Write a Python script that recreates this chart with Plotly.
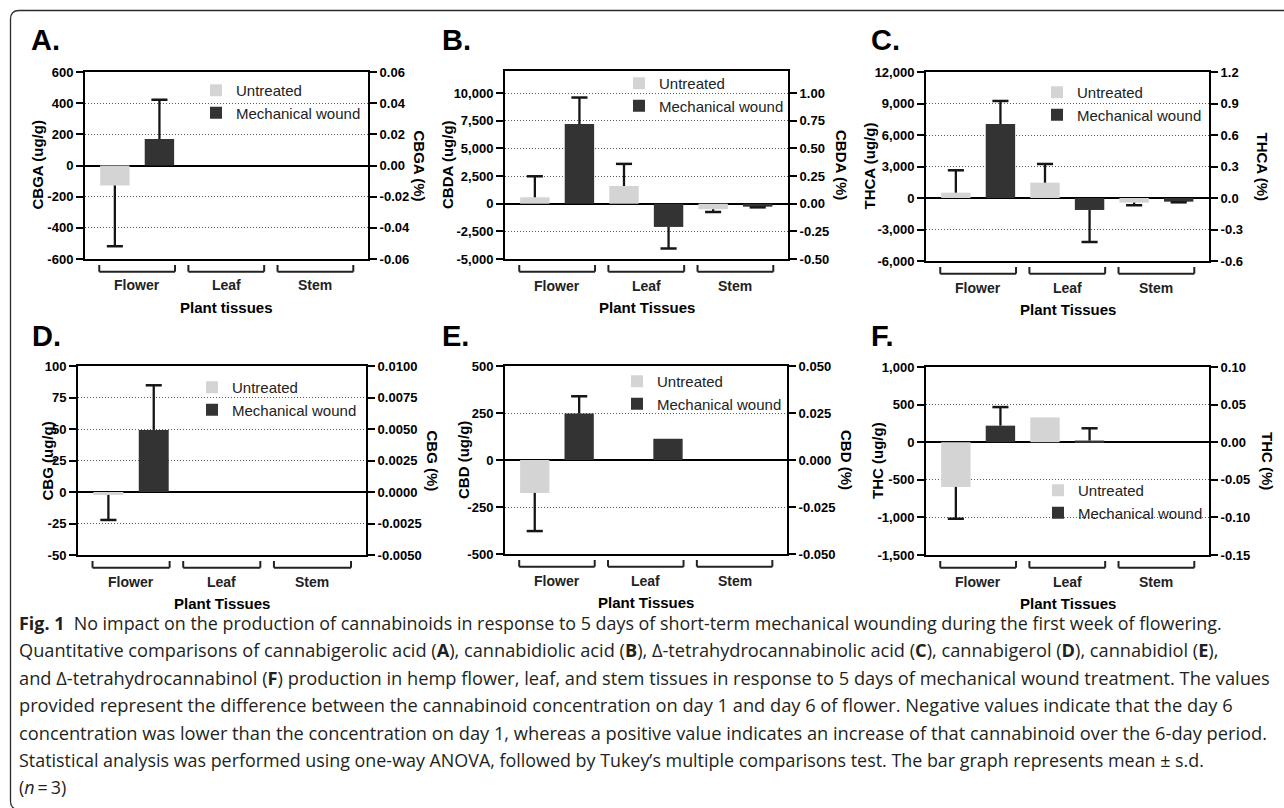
import plotly.graph_objects as go

W, H = 1284, 808

# ---------------- data ----------------
tissues = ["Flower", "Leaf", "Stem"]
series_names = ["Untreated", "Mechanical wound"]

# A. CBGA (ug/g)
cbga_untreated = [-128, None, None]
cbga_untreated_sd = [390, None, None]
cbga_wound = [170, None, None]
cbga_wound_sd = [252, None, None]

# B. CBDA (ug/g)
cbda_untreated = [580, 1600, -500]
cbda_untreated_sd = [1900, 2000, 250]
cbda_wound = [7200, -2100, -270]
cbda_wound_sd = [2400, 1950, 60]

# C. THCA (ug/g)
thca_untreated = [510, 1460, -440]
thca_untreated_sd = [2130, 1780, 250]
thca_wound = [7050, -1140, -350]
thca_wound_sd = [2190, 3050, 60]

# D. CBG (ug/g)
cbg_untreated = [-2.4, None, None]
cbg_untreated_sd = [19.8, None, None]
cbg_wound = [49.3, None, None]
cbg_wound_sd = [35.4, None, None]

# E. CBD (ug/g)
cbd_untreated = [-175, None, None]
cbd_untreated_sd = [203, None, None]
cbd_wound = [247, 113, None]
cbd_wound_sd = [92, 0, None]

# F. THC (ug/g)
thc_untreated = [-595, 330, None]
thc_untreated_sd = [423, 0, None]
thc_wound = [220, 22, None]
thc_wound_sd = [247, 163, None]

# tick values / labels
cbga_ticks = [-600, -400, -200, 0, 200, 400, 600]
cbga_ticktext = ["-600", "-400", "-200", "0", "200", "400", "600"]
cbga_pcttext = ["-0.06", "-0.04", "-0.02", "0.00", "0.02", "0.04", "0.06"]
cbga_range = [-600, 600]

cbda_ticks = [-5000, -2500, 0, 2500, 5000, 7500, 10000]
cbda_ticktext = ["-5,000", "-2,500", "0", "2,500", "5,000", "7,500", "10,000"]
cbda_pcttext = ["-0.50", "-0.25", "0.00", "0.25", "0.50", "0.75", "1.00"]
cbda_range = [-5000, 12000]

thca_ticks = [-6000, -3000, 0, 3000, 6000, 9000, 12000]
thca_ticktext = ["-6,000", "-3,000", "0", "3,000", "6,000", "9,000", "12,000"]
thca_pcttext = ["-0.6", "-0.3", "0.0", "0.3", "0.6", "0.9", "1.2"]
thca_range = [-6000, 12000]

cbg_ticks = [-50, -25, 0, 25, 50, 75, 100]
cbg_ticktext = ["-50", "-25", "0", "25", "50", "75", "100"]
cbg_pcttext = ["-0.0050", "-0.0025", "0.0000", "0.0025", "0.0050", "0.0075", "0.0100"]
cbg_range = [-50, 100]

cbd_ticks = [-500, -250, 0, 250, 500]
cbd_ticktext = ["-500", "-250", "0", "250", "500"]
cbd_pcttext = ["-0.050", "-0.025", "0.000", "0.025", "0.050"]
cbd_range = [-500, 500]

thc_ticks = [-1500, -1000, -500, 0, 500, 1000]
thc_ticktext = ["-1,500", "-1,000", "-500", "0", "500", "1,000"]
thc_pcttext = ["-0.15", "-0.10", "-0.05", "0.00", "0.05", "0.10"]
thc_range = [-1500, 1000]

panel_letters = ["A.", "B.", "C.", "D.", "E.", "F."]
compounds = ["CBGA", "CBDA", "THCA", "CBG", "CBD", "THC"]
x_titles = ["Plant tissues", "Plant Tissues", "Plant Tissues",
            "Plant Tissues", "Plant Tissues", "Plant Tissues"]

caption_lines = [
    "<b>Fig. 1</b>\u00a0\u00a0No impact on the production of cannabinoids in response to 5 days of short-term mechanical wounding during the first week of flowering.",
    "Quantitative comparisons of cannabigerolic acid (<b>A</b>), cannabidiolic acid (<b>B</b>), \u0394-tetrahydrocannabinolic acid (<b>C</b>), cannabigerol (<b>D</b>), cannabidiol (<b>E</b>),",
    "and \u0394-tetrahydrocannabinol (<b>F</b>) production in hemp flower, leaf, and stem tissues in response to 5 days of mechanical wound treatment. The values",
    "provided represent the difference between the cannabinoid concentration on day 1 and day 6 of flower. Negative values indicate that the day 6",
    "concentration was lower than the concentration on day 1, whereas a positive value indicates an increase of that cannabinoid over the 6-day period.",
    "Statistical analysis was performed using one-way ANOVA, followed by Tukey\u2019s multiple comparisons test. The bar graph represents mean \u00b1 s.d.",
    "(<i>n</i>\u2009=\u20093)",
]

panels = [
    (cbga_untreated, cbga_untreated_sd, cbga_wound, cbga_wound_sd, cbga_ticks, cbga_ticktext, cbga_pcttext, cbga_range),
    (cbda_untreated, cbda_untreated_sd, cbda_wound, cbda_wound_sd, cbda_ticks, cbda_ticktext, cbda_pcttext, cbda_range),
    (thca_untreated, thca_untreated_sd, thca_wound, thca_wound_sd, thca_ticks, thca_ticktext, thca_pcttext, thca_range),
    (cbg_untreated, cbg_untreated_sd, cbg_wound, cbg_wound_sd, cbg_ticks, cbg_ticktext, cbg_pcttext, cbg_range),
    (cbd_untreated, cbd_untreated_sd, cbd_wound, cbd_wound_sd, cbd_ticks, cbd_ticktext, cbd_pcttext, cbd_range),
    (thc_untreated, thc_untreated_sd, thc_wound, thc_wound_sd, thc_ticks, thc_ticktext, thc_pcttext, thc_range),
]

# ---------------- layout geometry (pixels) ----------------
plot_boxes = [  # left, top, right, bottom
    (85, 72, 368, 259), (505, 71, 788, 259), (926, 72, 1209, 261),
    (78, 366, 366, 555), (505, 366, 787, 554), (926, 367, 1209, 555),
]
letter_pos = [(29, 40), (440, 40), (869, 40), (30, 336), (440, 336), (869, 336)]
left_title_x = [37, 448, 869, 47, 463, 877]
right_title_x = [419, 841, 1262, 432, 847, 1268]
legend_pos = [(236, 91), (659, 84), (1077, 93), (232, 388), (657, 382), (1078, 491)]  # text start x, first row y
caption_top_y = 623
caption_step = 27.3
caption_sizes = [17.9, 18.2, 18.25, 18.25, 18.25, 17.9, 17.9]

LIGHT = "#d4d4d4"
DARK = "#333333"
ERR = "#151515"
FONT = "Liberation Sans, Arial, sans-serif"
BAR_W = 0.66
X_RANGE = [-0.67, 5.68]


def fx(px):
    return px / W


def fy(py):
    return 1 - py / H


fig = go.Figure()
layout = dict(
    template="none",
    width=W, height=H, margin=dict(l=0, r=0, t=0, b=0, pad=0, autoexpand=False),
    paper_bgcolor="white", plot_bgcolor="white",
    barmode="overlay", showlegend=True,
    font=dict(family=FONT, color="black"),
)
annotations = []
shapes = []

for p, (u, usd, w, wsd, tv, tt, pt, yr) in enumerate(panels):
    n = p + 1
    xa = "x" if n == 1 else f"x{n}"
    ya = "y" if n == 1 else f"y{n}"
    yr_name = f"y{n + 6}"
    leg = "legend" if n == 1 else f"legend{n}"
    xu = [2 * i for i in range(len(tissues))]
    xw = [2 * i + 1 for i in range(len(tissues))]

    fig.add_trace(go.Bar(x=xu, y=u, width=BAR_W, name=series_names[0], marker=dict(color=LIGHT, line=dict(width=0)),
                         xaxis=xa, yaxis=ya, legend=leg, hoverinfo="skip"))
    fig.add_trace(go.Bar(x=xw, y=w, width=BAR_W, name=series_names[1], marker=dict(color=DARK, line=dict(width=0)),
                         xaxis=xa, yaxis=ya, legend=leg, hoverinfo="skip"))

    # one-sided error bars (away from zero)
    sx, sy, cx, cy = [], [], [], []
    for xs, ms, sds in ((xu, u, usd), (xw, w, wsd)):
        for xi, m, s in zip(xs, ms, sds):
            if m is None or not s:
                continue
            tip = m + s if m >= 0 else m - s
            sx += [xi, xi, None]
            sy += [m, tip, None]
            cx.append(xi)
            cy.append(tip)
    fig.add_trace(go.Scatter(x=sx, y=sy, mode="lines", line=dict(color=ERR, width=2.3),
                             xaxis=xa, yaxis=ya, showlegend=False, hoverinfo="skip"))
    fig.add_trace(go.Scatter(x=cx, y=cy, mode="markers",
                             marker=dict(symbol="line-ew", size=11.5, color=ERR, line=dict(color=ERR, width=2.5)),
                             xaxis=xa, yaxis=ya, showlegend=False, hoverinfo="skip"))
    # trace anchoring the right-hand (%) axis
    fig.add_trace(go.Scatter(x=[None], y=[None], mode="markers", xaxis=xa, yaxis=yr_name,
                             showlegend=False, hoverinfo="skip"))

    l, t, r, b = plot_boxes[p]
    ph = b - t
    xkey = "xaxis" if n == 1 else f"xaxis{n}"
    ykey = "yaxis" if n == 1 else f"yaxis{n}"
    layout[xkey] = dict(domain=[fx(l), fx(r)], anchor=ya, range=X_RANGE, automargin=False,
                        showline=True, linecolor="black", linewidth=2, mirror=True,
                        showticklabels=False, ticks="", showgrid=False, zeroline=False, fixedrange=True)
    tickfont = dict(family=FONT, size=13, color="black", weight="bold")
    layout[ykey] = dict(domain=[fy(b), fy(t)], anchor=xa, range=yr, tickmode="array", automargin=False,
                        tickvals=tv, ticktext=tt, ticks="outside", ticklen=7, tickwidth=2, tickcolor="black",
                        showline=True, linecolor="black", linewidth=2,
                        showgrid=True, gridcolor="#5a5a5a", gridwidth=1, griddash="1px,2px",
                        zeroline=True, zerolinecolor="black", zerolinewidth=2,
                        tickfont=tickfont, fixedrange=True)
    layout[f"yaxis{n + 6}"] = dict(overlaying=ya, side="right", anchor=xa, range=yr, tickmode="array",
                                   automargin=False,
                                   tickvals=tv, ticktext=pt, ticks="outside", ticklen=7, tickwidth=2,
                                   tickcolor="black", showline=True, linecolor="black", linewidth=2,
                                   showgrid=False, zeroline=False, tickfont=tickfont, fixedrange=True)

    lx, ly = legend_pos[p]
    layout[leg] = dict(x=fx(lx - 40), y=fy(ly - 17), xanchor="left", yanchor="top",
                       bgcolor="rgba(0,0,0,0)", borderwidth=0, tracegroupgap=0,
                       font=dict(family=FONT, size=15, color="#222222"))

    # panel letter
    annotations.append(dict(text=f"<b>{panel_letters[p]}</b>", xref="paper", yref="paper",
                            x=fx(letter_pos[p][0]), y=fy(letter_pos[p][1]), xanchor="left", yanchor="middle",
                            showarrow=False, font=dict(family=FONT, size=29, color="black")))
    # axis titles
    annotations.append(dict(text=f"<b>{compounds[p]} (ug/g)</b>", xref="paper", yref=f"{ya} domain",
                            x=fx(left_title_x[p]), y=0.5, textangle=-90, xanchor="center", yanchor="middle",
                            showarrow=False, font=dict(family=FONT, size=15, color="black")))
    annotations.append(dict(text=f"<b>{compounds[p]} (%)</b>", xref="paper", yref=f"{ya} domain",
                            x=fx(right_title_x[p]), y=0.5, textangle=90, xanchor="center", yanchor="middle",
                            showarrow=False, font=dict(family=FONT, size=15, color="black")))
    annotations.append(dict(text=f"<b>{x_titles[p]}</b>", xref=f"{xa} domain", yref=f"{ya} domain",
                            x=0.5, y=-48 / ph, xanchor="center", yanchor="middle",
                            showarrow=False, font=dict(family=FONT, size=15, color="black")))
    # tissue brackets and labels
    for g, name in enumerate(tissues):
        x0, x1 = 2 * g - 0.35, 2 * g + 1 + 0.35
        yb, yt = -12.7 / ph, -6 / ph
        line = dict(color="#222222", width=2)
        shapes.append(dict(type="line", xref=xa, yref=f"{ya} domain", x0=x0, x1=x1, y0=yb, y1=yb, line=line))
        shapes.append(dict(type="line", xref=xa, yref=f"{ya} domain", x0=x0, x1=x0, y0=yb, y1=yt, line=line))
        shapes.append(dict(type="line", xref=xa, yref=f"{ya} domain", x0=x1, x1=x1, y0=yb, y1=yt, line=line))
        annotations.append(dict(text=f"<b>{name}</b>", xref=xa, yref=f"{ya} domain",
                                x=2 * g + 0.5, y=-26.5 / ph, xanchor="center", yanchor="middle",
                                showarrow=False, font=dict(family=FONT, size=14, color="#222222")))

# caption, one annotation per line
for i, txt in enumerate(caption_lines):
    annotations.append(dict(text=txt, xref="paper", yref="paper",
                            x=fx(17), y=fy(caption_top_y + i * caption_step), xanchor="left", yanchor="middle",
                            align="left", showarrow=False,
                            font=dict(family="Open Sans, sans-serif", size=caption_sizes[i], color="#231f20")))

# outer rounded frame (open on the right/bottom beyond the image)
frame = (f"M {fx(1300)},{fy(10.5)} L {fx(19)},{fy(10.5)} Q {fx(10.5)},{fy(10.5)} {fx(10.5)},{fy(19)} "
         f"L {fx(10.5)},{fy(801)} Q {fx(10.5)},{fy(809.5)} {fx(19)},{fy(809.5)} L {fx(1300)},{fy(809.5)}")
shapes.append(dict(type="path", xref="paper", yref="paper", path=frame, line=dict(color="#2b2b2b", width=1.3)))

layout["annotations"] = annotations
layout["shapes"] = shapes
fig.update_layout(**layout)

fig.write_html("out.html", config={"displayModeBar": False},
               post_script="document.body.style.margin='0';document.body.style.overflow='hidden';")
